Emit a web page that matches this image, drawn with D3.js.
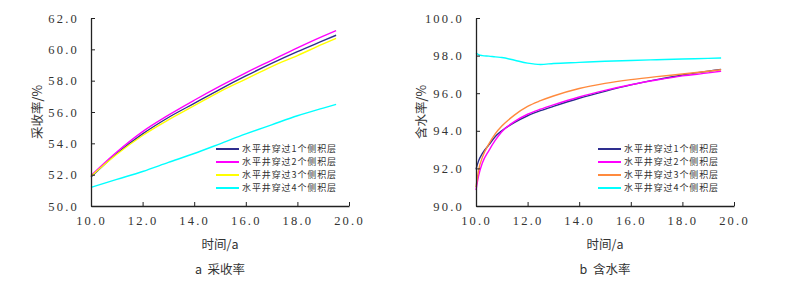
<!DOCTYPE html>
<html>
<head>
<meta charset="utf-8">
<script src="https://cdn.jsdelivr.net/npm/d3@7"></script>
<style>
  body { margin: 0; background: #fff; }
  svg text { fill: #333; }
</style>
</head>
<body>
<svg id="chart" width="801" height="286"></svg>
<script>
// series names (same for both panels)
const seriesNames = ["水平井穿过1个侧积层", "水平井穿过2个侧积层", "水平井穿过3个侧积层", "水平井穿过4个侧积层"];

// panel a: recovery factor (%)
const yearsA = [10, 11, 12, 13, 14, 15, 16, 17, 18, 19, 19.5];
const recov1 = [51.85, 53.35, 54.6, 55.65, 56.55, 57.45, 58.3, 59.1, 59.85, 60.55, 60.9];
const recov2 = [51.95, 53.45, 54.75, 55.8, 56.75, 57.65, 58.5, 59.3, 60.1, 60.85, 61.2];
const recov3 = [51.9, 53.3, 54.5, 55.5, 56.4, 57.3, 58.1, 58.9, 59.6, 60.35, 60.7];
const recov4 = [51.19, 51.7, 52.2, 52.78, 53.35, 53.97, 54.6, 55.18, 55.76, 56.25, 56.49];

// panel b: water cut (%)
const yearsB = [10, 10.1, 10.25, 10.5, 10.75, 11, 11.5, 12, 12.5, 13, 14, 15, 16, 17, 18, 19, 19.5];
const wcut1 = [91.95, 92.4, 92.8, 93.25, 93.7, 94.0, 94.45, 94.8, 95.07, 95.3, 95.73, 96.1, 96.44, 96.72, 96.97, 97.17, 97.27];
const wcut2 = [90.85, 91.6, 92.3, 92.95, 93.5, 93.95, 94.5, 94.88, 95.15, 95.38, 95.8, 96.15, 96.45, 96.7, 96.92, 97.08, 97.17];
const wcut3 = [91.0, 91.9, 92.6, 93.3, 93.85, 94.25, 94.85, 95.3, 95.6, 95.85, 96.25, 96.52, 96.72, 96.88, 97.02, 97.17, 97.25];
const wcut4 = [98.15, 98.05, 98.0, 97.97, 97.93, 97.9, 97.75, 97.6, 97.53, 97.58, 97.64, 97.7, 97.74, 97.78, 97.82, 97.85, 97.87];

const xTicks = [10, 12, 14, 16, 18, 20];
const yTicksA = [50, 52, 54, 56, 58, 60, 62];
const yTicksB = [90, 92, 94, 96, 98, 100];

const svg = d3.select("#chart");
const numFont = "'Liberation Serif', 'Noto Sans CJK SC', serif";
const cjkFont = "'Noto Sans CJK SC', sans-serif";

const panels = [
  {
    x0: 91, x1: 349, yTop: 18, yBot: 206,
    yDomain: [50, 62], yTicks: yTicksA, years: yearsA,
    series: [recov1, recov2, recov3, recov4],
    colors: ["#2e2e8f", "#ff00ff", "#ffff00", "#00ffff"],
    yTitle: "采收率/%", caption: "a  采收率", titleX: 38, legendX: 216
  },
  {
    x0: 476, x1: 734, yTop: 18, yBot: 206,
    yDomain: [90, 100], yTicks: yTicksB, years: yearsB,
    series: [wcut1, wcut2, wcut3, wcut4],
    colors: ["#2e2e8f", "#ff00ff", "#ff8a3d", "#00ffff"],
    yTitle: "含水率/%", caption: "b  含水率", titleX: 422, legendX: 598
  }
];

panels.forEach(p => {
  const x = d3.scaleLinear().domain([10, 20]).range([p.x0, p.x1]);
  const y = d3.scaleLinear().domain(p.yDomain).range([p.yBot, p.yTop]);
  const g = svg.append("g");

  // lines
  const line = d3.line()
    .x((d, i) => x(p.years[i]))
    .y(d => y(d))
    .curve(d3.curveMonotoneX);

  p.series.forEach((s, k) => {
    g.append("path")
      .datum(s)
      .attr("d", line)
      .attr("fill", "none")
      .attr("stroke", p.colors[k])
      .attr("stroke-width", 1.4);
  });

  // axes
  const xAxis = g.append("g")
    .attr("transform", `translate(0,${p.yBot})`)
    .call(d3.axisBottom(x).tickValues(xTicks).tickSize(-4).tickSizeOuter(0).tickPadding(10)
      .tickFormat(d3.format(".1f")));
  const yAxis = g.append("g")
    .attr("transform", `translate(${p.x0},0)`)
    .call(d3.axisLeft(y).tickValues(p.yTicks).tickSize(-4).tickSizeOuter(0).tickPadding(12)
      .tickFormat(d3.format(".1f")));

  [xAxis, yAxis].forEach(a => {
    a.select(".domain").attr("stroke", "#222").attr("stroke-width", 1.3);
    a.selectAll(".tick line").attr("stroke", "#222");
    a.selectAll(".tick text")
      .style("font-family", numFont)
      .style("font-size", "12.5px")
      .style("letter-spacing", "2.2px")
      .attr("fill", "#333");
  });

  // titles
  g.append("text")
    .attr("transform", `translate(${p.titleX},${(p.yTop + p.yBot) / 2}) rotate(-90)`)
    .attr("text-anchor", "middle")
    .attr("dy", "0.35em")
    .style("font-family", cjkFont)
    .style("font-size", "12.5px")
    .text(p.yTitle);

  g.append("text")
    .attr("x", (p.x0 + p.x1) / 2)
    .attr("y", 249)
    .attr("text-anchor", "middle")
    .style("font-family", cjkFont)
    .style("font-size", "12.5px")
    .text("时间/a");

  g.append("text")
    .attr("x", (p.x0 + p.x1) / 2)
    .attr("y", 274)
    .attr("text-anchor", "middle")
    .style("font-family", cjkFont)
    .style("font-size", "12.5px")
    .style("white-space", "pre")
    .text(p.caption);

  // legend
  const leg = g.append("g");
  seriesNames.forEach((name, k) => {
    const ly = 149 + k * 13;
    leg.append("line")
      .attr("x1", p.legendX).attr("x2", p.legendX + 23)
      .attr("y1", ly).attr("y2", ly)
      .attr("stroke", p.colors[k])
      .attr("stroke-width", 2);
    leg.append("text")
      .attr("x", p.legendX + 26)
      .attr("y", ly)
      .attr("dy", "0.35em")
      .style("font-family", cjkFont)
      .style("font-size", "9px")
      .style("letter-spacing", "0.9px")
      .text(name);
  });
});
</script>
</body>
</html>
